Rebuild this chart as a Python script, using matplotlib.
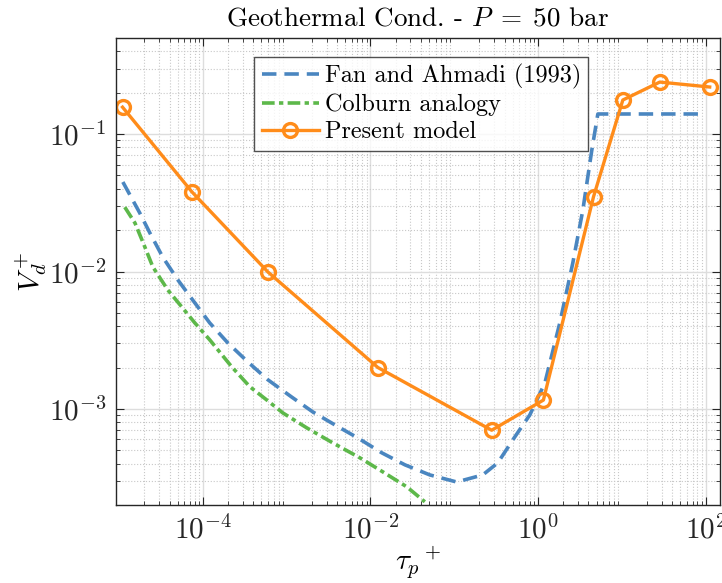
import numpy as np
import matplotlib
matplotlib.use("Agg")
import matplotlib.pyplot as plt

plt.rcParams['font.family'] = 'serif'
plt.rcParams['font.serif'] = ['cmr10']
plt.rcParams['mathtext.fontset'] = 'cm'
plt.rcParams['axes.formatter.use_mathtext'] = True
plt.rcParams['axes.unicode_minus'] = False

# Present model (markers)
tau_model = [1.1e-5, 7.4e-5, 6.0e-4, 1.23e-2, 0.28, 1.16, 4.6, 10.3, 28.4, 112]
vd_model = [0.157, 0.038, 0.0099, 0.0020, 7.0e-4, 1.16e-3, 0.035, 0.177, 0.239, 0.22]

# Fan and Ahmadi (1993)
tau_fan = [1.11e-5, 1.77e-5, 2.33e-5, 3.33e-5, 5.04e-5, 8.04e-5, 1.21e-4, 1.99e-4,
           3.44e-4, 5.97e-4, 1.15e-3, 2.06e-3, 3.76e-3, 7.08e-3, 1.37e-2, 2.58e-2,
           5.12e-2, 0.107, 0.219, 0.331, 0.528, 0.798, 1.21, 1.82, 2.60, 3.43,
           4.39, 5.18, 97.7]
vd_fan = [0.0448, 0.0266, 0.0191, 0.0127, 8.67e-3, 5.90e-3, 4.22e-3, 3.02e-3,
          2.20e-3, 1.63e-3, 1.22e-3, 9.50e-4, 7.66e-4, 6.15e-4, 4.79e-4, 3.92e-4,
          3.31e-4, 2.94e-4, 3.31e-4, 4.05e-4, 6.25e-4, 9.04e-4, 1.55e-3, 4.22e-3,
          0.0115, 0.0280, 0.0766, 0.14, 0.14]

# Colburn analogy
tau_col = [1.17e-5, 1.55e-5, 2.03e-5, 2.53e-5, 3.82e-5, 5.61e-5, 8.04e-5, 1.21e-4,
           2.22e-4, 3.64e-4, 5.81e-4, 9.02e-4, 1.74e-3, 3.56e-3, 7.48e-3, 1.41e-2,
           2.72e-2, 4.46e-2]
vd_col = [0.0294, 0.0225, 0.0151, 0.0108, 7.33e-3, 5.52e-3, 4.22e-3, 3.18e-3,
          2.02e-3, 1.45e-3, 1.16e-3, 9.35e-4, 7.28e-4, 5.66e-4, 4.41e-4, 3.48e-4,
          2.71e-4, 2.11e-4]

fig = plt.figure(figsize=(7.22, 5.83), dpi=100)
ax = fig.add_axes([0.1607, 0.1338, 0.8363, 0.801])

ax.plot(tau_fan, vd_fan, '--', color='#4a86c0', lw=2.6, dashes=(4, 2.2),
        label='Fan and Ahmadi (1993)')
ax.plot(tau_col, vd_col, '-.', color='#5db84a', lw=2.6, dashes=(3.5, 1.2, 1.2, 1.2),
        label='Colburn analogy')
ax.plot(tau_model, vd_model, '-o', color='#ff8c1a', lw=2.4, ms=10, mew=2.4,
        mfc='none', label='Present model')

ax.set_xscale('log')
ax.set_yscale('log')
ax.set_xlim(9.2e-6, 1.48e2)
ax.set_ylim(2e-4, 5e-1)
ax.set_xticks([1e-4, 1e-2, 1e0, 1e2])
ax.set_yticks([1e-3, 1e-2, 1e-1])
ax.xaxis.set_minor_locator(matplotlib.ticker.LogLocator(base=10, subs=np.arange(2, 10), numticks=20))
ax.yaxis.set_minor_locator(matplotlib.ticker.LogLocator(base=10, subs=np.arange(2, 10), numticks=20))
ax.xaxis.set_minor_formatter(matplotlib.ticker.NullFormatter())
ax.yaxis.set_minor_formatter(matplotlib.ticker.NullFormatter())

ax.grid(True, which='major', color='#dddddd', lw=1.0, ls='-')
ax.grid(True, which='minor', color='#c8c8c8', lw=0.8, ls=':')
ax.set_axisbelow(True)
ax.tick_params(which='both', direction='in', top=True, right=True, colors='#262626')
ax.tick_params(which='major', length=6, labelsize=21, pad=7)
ax.tick_params(which='minor', length=3)
for s in ax.spines.values():
    s.set_color('#262626')
    s.set_linewidth(1.0)

ax.set_title(r'Geothermal Cond. - $P\;=\;50$ bar', fontsize=19.5, pad=9)
ax.set_xlabel(r'$\tau_p{}^+$', fontsize=21, labelpad=0)
ax.set_ylabel(r'$V_d^+$', fontsize=21, labelpad=0)

leg = ax.legend(loc='upper left', bbox_to_anchor=(0.229, 0.96), fontsize=17.5,
                frameon=True, fancybox=False, edgecolor='#262626',
                handlelength=2.35, handletextpad=0.25, borderpad=0.3,
                labelspacing=0.2, borderaxespad=0)
leg.get_frame().set_linewidth(1.0)

fig.savefig('out.png', dpi=100)
